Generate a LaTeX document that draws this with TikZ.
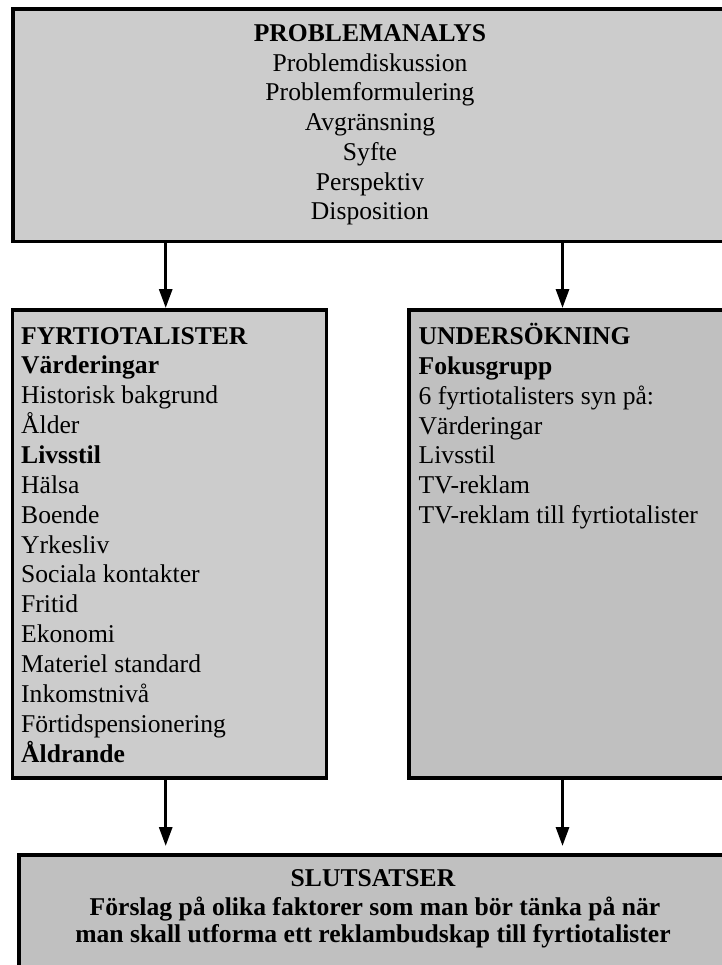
\documentclass[tikz,border=0pt]{standalone}
\usepackage{fontspec}
\setmainfont{Liberation Serif}
\usetikzlibrary{arrows.meta}
\definecolor{lightbox}{HTML}{CCCCCC}
\definecolor{darkbox}{HTML}{C0C0C0}
\begin{document}
\begin{tikzpicture}[x=1pt,y=-1pt,
  box/.style={draw=black, line width=3.8pt, inner sep=0pt, outer sep=0pt, anchor=north west},
  txt/.style={inner sep=0pt, anchor=base west, font=\fontsize{25.6}{30}\selectfont},
  ctxt/.style={txt, anchor=base},
  flow/.style={line width=3pt, -{Triangle[length=19pt,width=13pt]}}]
\useasboundingbox (0,0) rectangle (721,965);
% boxes
\node[box, fill=lightbox, minimum width=714pt, minimum height=232.5pt] (prob) at (13,9) {};
\node[box, fill=lightbox, minimum width=314pt, minimum height=468pt] (fyrt) at (12.5,310) {};
\node[box, fill=darkbox, minimum width=330pt, minimum height=468pt] (unders) at (409,310) {};
\node[box, fill=darkbox, minimum width=720pt, minimum height=150pt] (slut) at (19,855) {};
% anchor coordinates for arrows
\coordinate (ax) at (165.7,0);
\coordinate (bx) at (562.5,0);
% arrows
\draw[flow, shorten >=2pt] (prob.south -| ax) -- (fyrt.north -| ax);
\draw[flow, shorten >=2pt] (prob.south -| bx) -- (unders.north -| bx);
\draw[flow, shorten >=9pt] (fyrt.south -| ax) -- (slut.north -| ax);
\draw[flow, shorten >=9pt] (unders.south -| bx) -- (slut.north -| bx);
% top box text
\foreach \t [count=\i from 0] in {{\textbf{PROBLEMANALYS}}, Problemdiskussion, Problemformulering, Avgränsning, Syfte, Perspektiv, Disposition}
  \node[ctxt] (p\i) at (370, 41.5+29.75*\i) {\t};
% left box text
\foreach \t [count=\i from 0] in {{\textbf{FYRTIOTALISTER}}, {\textbf{Värderingar}}, Historisk bakgrund, Ålder, {\textbf{Livsstil}}, Hälsa, Boende, Yrkesliv, Sociala kontakter, Fritid, Ekonomi, Materiel standard, Inkomstnivå, Förtidspensionering, {\textbf{Åldrande}}}
  \node[txt] (f\i) at (21, 344+29.86*\i) {\t};
% right box text
\foreach \t [count=\i from 0] in {{\textbf{UNDERSÖKNING}}, {\textbf{Fokusgrupp}}, 6 fyrtiotalisters syn på:, Värderingar, Livsstil, TV-reklam, TV-reklam till fyrtiotalister}
  \node[txt] (u\i) at (418.5, 344.3+29.9*\i) {\t};
% bottom box text
\node[ctxt, font=\fontsize{25.6}{30}\selectfont\bfseries] (s0) at (373, 886.7) {SLUTSATSER};
\node[ctxt, font=\fontsize{25.6}{30}\selectfont\bfseries] (s1) at (375, 915) {Förslag på olika faktorer som man bör tänka på när};
\node[ctxt, font=\fontsize{25.6}{30}\selectfont\bfseries] (s2) at (373, 942.7) {man skall utforma ett reklambudskap till fyrtiotalister};
\end{tikzpicture}
\end{document}
